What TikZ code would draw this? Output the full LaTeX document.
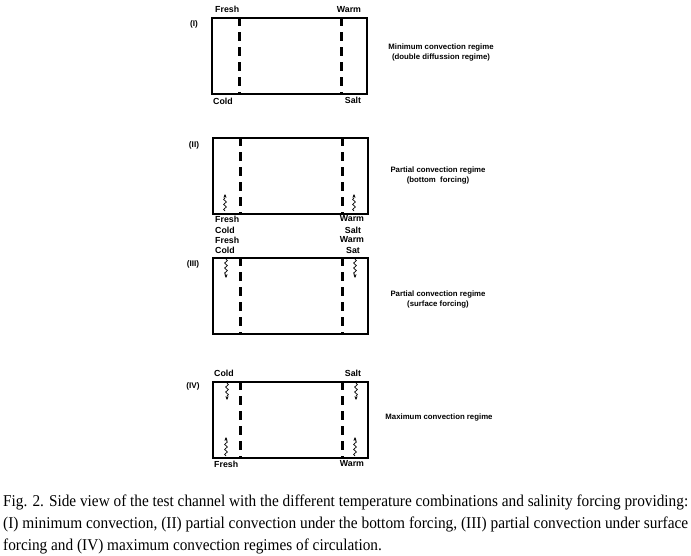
\documentclass[tikz,border=0pt]{standalone}
\usepackage{fontspec}
\setmainfont{Liberation Serif}
\setsansfont{Liberation Sans}
\usetikzlibrary{decorations.pathmorphing,arrows.meta}
\newlength\capw
\newcommand\capone{Fig. 2. Side view of the test channel with the different temperature combinations and salinity forcing providing:}
\begin{document}
\settowidth\capw{\fontsize{16.5}{18}\selectfont\capone}
\pgfmathsetmacro\capf{685/(\capw/1pt)}
\begin{tikzpicture}[x=1pt,y=-1pt,
  chan/.style={draw,line width=2.3pt,minimum width=155pt,minimum height=76pt,inner sep=0pt,anchor=north west},
  sep/.style={line width=2.6pt,dash pattern=on 9pt off 6pt},
  lab/.style={font=\sffamily\bfseries\fontsize{8.8}{9}\selectfont,inner sep=0pt},
  reg/.style={font=\sffamily\bfseries\fontsize{7.8}{8}\selectfont,inner sep=0pt,align=center},
  num/.style={font=\sffamily\bfseries\fontsize{8.2}{9}\selectfont,inner sep=0pt},
  wave/.style={line width=0.7pt,decorate,decoration={snake,amplitude=1.4pt,segment length=5pt,post length=3pt},-{Stealth[length=3.5pt,width=3pt]}},
  captext/.style={font=\fontsize{16.5}{18}\selectfont,inner sep=0pt,anchor=base west}]
\useasboundingbox (0,0) rectangle (691,555);
% boxes
\node[chan] (b1) at (211,17) {};
\node[chan] (b2) at (212,137) {};
\node[chan] (b3) at (212,257) {};
\node[chan] (b4) at (212,381) {};
\foreach \b in {b1,b2,b3,b4}{
  \path (\b.north west) ++(28.5,0) coordinate (\b lt) (\b.south west) ++(28.5,0) coordinate (\b lb);
  \path (\b.north west) ++(130.5,0) coordinate (\b rt) (\b.south west) ++(130.5,0) coordinate (\b rb);
  \draw[sep] (\b lt) -- (\b lb);
  \draw[sep] (\b rt) -- (\b rb);
}
% numbers
\node[num] (n1) at (194,24) {(I)};
\node[num] (n2) at (194,145) {(II)};
\node[num] (n3) at (193,264) {(III)};
\node[num] (n4) at (193,386) {(IV)};
% labels I
\node[lab,anchor=west] (l1a) at (215,9) {Fresh};
\node[lab] (l1b) at (349,10) {Warm};
\node[lab,anchor=west] (l1c) at (213,101) {Cold};
\node[lab] (l1d) at (353,100) {Salt};
% labels II / III
\node[lab,anchor=west] (l2a) at (215,219) {Fresh};
\node[lab,anchor=west] (l2b) at (215,230) {Cold};
\node[lab] (l2c) at (352,219) {Warm};
\node[lab] (l2d) at (353,230) {Salt};
\node[lab,anchor=west] (l3a) at (215,240) {Fresh};
\node[lab,anchor=west] (l3b) at (215,250) {Cold};
\node[lab] (l3c) at (352,240) {Warm};
\node[lab] (l3d) at (353,250) {Sat};
% labels IV
\node[lab,anchor=west] (l4a) at (214,373) {Cold};
\node[lab] (l4b) at (353,373) {Salt};
\node[lab,anchor=west] (l4c) at (214,464) {Fresh};
\node[lab] (l4d) at (352,464) {Warm};
% regimes
\node[reg] (r1) at (441,52) {Minimum convection regime\\[2pt](double diffussion regime)};
\node[reg] (r2) at (438,175) {Partial convection regime\\[2pt](bottom\ \ forcing)};
\node[reg] (r3) at (438,299) {Partial convection regime\\[2pt](surface forcing)};
\node[reg] (r4) at (439,417) {Maximum convection regime};
% wavy arrows
\coordinate (w2a) at (225,211); \coordinate (w2b) at (225,194);
\coordinate (w2c) at (354,211); \coordinate (w2d) at (354,194);
\coordinate (w3a) at (226,259); \coordinate (w3b) at (226,278);
\coordinate (w3c) at (355,259); \coordinate (w3d) at (355,278);
\coordinate (w4a) at (227,383); \coordinate (w4b) at (227,400);
\coordinate (w4c) at (356,383); \coordinate (w4d) at (356,400);
\coordinate (w4e) at (226,456); \coordinate (w4f) at (226,437);
\coordinate (w4g) at (355,456); \coordinate (w4h) at (355,437);
\foreach \s/\e in {w2a/w2b,w2c/w2d,w3a/w3b,w3c/w3d,w4a/w4b,w4c/w4d,w4e/w4f,w4g/w4h}
  \draw[wave] (\s) -- (\e);
% caption
\node[captext] (c1) at (3,506) {\scalebox{\capf}[1]{\capone}};
\node[captext] (c2) at (3,528) {\resizebox{685pt}{\height}{(I) minimum convection, (II) partial convection under the bottom forcing, (III) partial convection under surface}};
\node[captext] (c3) at (3,550) {\scalebox{\capf}[1]{forcing and (IV) maximum convection regimes of circulation.}};
\end{tikzpicture}
\end{document}
